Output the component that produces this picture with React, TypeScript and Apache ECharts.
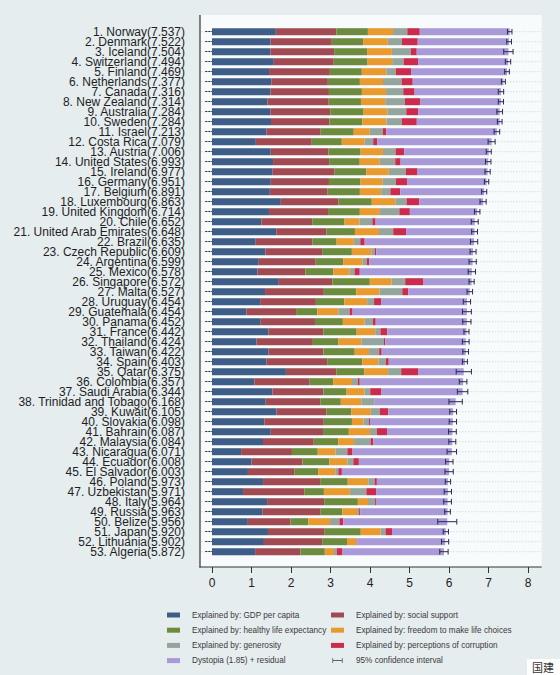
import React, { useEffect, useRef } from "react";
import * as echarts from "echarts";

const countries = ["Norway","Denmark","Iceland","Switzerland","Finland","Netherlands","Canada","New Zealand","Australia","Sweden","Israel","Costa Rica","Austria","United States","Ireland","Germany","Belgium","Luxembourg","United Kingdom","Chile","United Arab Emirates","Brazil","Czech Republic","Argentina","Mexico","Singapore","Malta","Uruguay","Guatemala","Panama","France","Thailand","Taiwan","Spain","Qatar","Colombia","Saudi Arabia","Trinidad and Tobago","Kuwait","Slovakia","Bahrain","Malaysia","Nicaragua","Ecuador","El Salvador","Poland","Uzbekistan","Italy","Russia","Belize","Japan","Lithuania","Algeria"];

const scores = [7.537,7.522,7.504,7.494,7.469,7.377,7.316,7.314,7.284,7.284,7.213,7.079,7.006,6.993,6.977,6.951,6.891,6.863,6.714,6.652,6.648,6.635,6.609,6.599,6.578,6.572,6.527,6.454,6.454,6.452,6.442,6.424,6.422,6.403,6.375,6.357,6.344,6.168,6.105,6.098,6.087,6.084,6.071,6.008,6.003,5.973,5.971,5.964,5.963,5.956,5.920,5.902,5.872];

const gdp = [1.616,1.482,1.481,1.565,1.444,1.504,1.479,1.406,1.484,1.494,1.375,1.110,1.487,1.546,1.536,1.488,1.464,1.742,1.442,1.253,1.626,1.107,1.353,1.185,1.153,1.692,1.343,1.218,0.872,1.234,1.431,1.128,1.434,1.384,1.871,1.071,1.531,1.361,1.633,1.325,1.488,1.291,0.737,1.001,0.910,1.292,0.786,1.395,1.282,0.908,1.417,1.315,1.092];

const social = [1.534,1.551,1.611,1.517,1.540,1.429,1.481,1.548,1.510,1.478,1.376,1.416,1.460,1.420,1.558,1.473,1.462,1.458,1.496,1.284,1.266,1.431,1.434,1.440,1.211,1.354,1.488,1.412,1.256,1.373,1.388,1.426,1.385,1.532,1.274,1.402,1.287,1.380,1.260,1.505,1.323,1.285,1.287,1.286,1.182,1.446,1.549,1.445,1.469,1.081,1.436,1.474,1.146];

const health = [0.797,0.793,0.834,0.858,0.809,0.811,0.835,0.817,0.844,0.831,0.838,0.760,0.815,0.774,0.810,0.799,0.818,0.845,0.805,0.819,0.727,0.617,0.754,0.695,0.710,0.949,0.822,0.719,0.540,0.706,0.844,0.647,0.794,0.889,0.710,0.595,0.590,0.520,0.632,0.713,0.653,0.619,0.653,0.686,0.596,0.699,0.498,0.853,0.547,0.450,0.913,0.629,0.618];

const freedom = [0.635,0.626,0.627,0.620,0.618,0.585,0.611,0.614,0.602,0.613,0.406,0.580,0.568,0.506,0.573,0.563,0.540,0.597,0.508,0.377,0.608,0.437,0.491,0.495,0.413,0.550,0.589,0.579,0.531,0.550,0.470,0.580,0.361,0.409,0.604,0.477,0.450,0.519,0.496,0.296,0.537,0.402,0.448,0.455,0.432,0.520,0.658,0.256,0.374,0.548,0.506,0.234,0.233];

const generosity = [0.362,0.355,0.476,0.291,0.245,0.470,0.436,0.500,0.478,0.385,0.330,0.215,0.316,0.393,0.428,0.336,0.232,0.283,0.493,0.327,0.361,0.162,0.088,0.109,0.121,0.346,0.575,0.175,0.283,0.211,0.131,0.572,0.258,0.190,0.330,0.149,0.148,0.325,0.228,0.137,0.173,0.417,0.302,0.150,0.078,0.158,0.416,0.173,0.052,0.240,0.121,0.010,0.069];

const corruption = [0.316,0.401,0.154,0.367,0.383,0.283,0.287,0.383,0.301,0.384,0.085,0.100,0.221,0.136,0.298,0.277,0.251,0.319,0.265,0.082,0.324,0.111,0.037,0.060,0.133,0.464,0.153,0.178,0.077,0.071,0.173,0.032,0.064,0.071,0.439,0.047,0.273,0.009,0.215,0.024,0.257,0.066,0.130,0.140,0.090,0.059,0.247,0.028,0.033,0.097,0.164,0.012,0.146];

const dystopia = [2.277,2.314,2.323,2.277,2.430,2.295,2.187,2.046,2.065,2.098,2.802,2.899,2.139,2.218,1.774,2.016,2.124,1.620,1.704,2.510,1.735,2.769,2.452,2.614,2.837,1.216,1.557,2.172,2.894,2.307,2.006,2.040,2.127,1.928,1.145,2.616,2.065,2.054,1.640,2.098,1.656,2.005,2.514,2.289,2.715,1.797,1.817,1.814,2.206,2.632,1.363,2.228,2.568];

const ciHigh = [7.594,7.582,7.622,7.562,7.528,7.427,7.384,7.379,7.356,7.344,7.284,7.168,7.070,7.062,7.043,7.006,6.955,6.941,6.783,6.740,6.722,6.727,6.685,6.690,6.671,6.637,6.597,6.546,6.566,6.557,6.506,6.509,6.494,6.466,6.568,6.453,6.476,6.337,6.191,6.191,6.185,6.172,6.191,6.102,6.108,6.040,6.063,6.061,6.035,6.197,5.986,5.992,5.978];

const ciLow = [7.480,7.462,7.386,7.426,7.410,7.327,7.248,7.248,7.212,7.224,7.142,6.990,6.942,6.924,6.911,6.896,6.827,6.785,6.645,6.564,6.574,6.543,6.533,6.508,6.485,6.507,6.457,6.362,6.342,6.347,6.378,6.339,6.350,6.340,6.182,6.261,6.212,5.999,6.019,6.005,5.989,5.996,5.951,5.914,5.898,5.906,5.879,5.867,5.891,5.715,5.854,5.812,5.766];

const xTicks = [0, 8];

const components = [
  { name: "Explained by: GDP per capita", data: gdp, color: "#3e5e88" },
  { name: "Explained by: social support", data: social, color: "#a24a52" },
  { name: "Explained by: healthy life expectancy", data: health, color: "#6c8b3e" },
  { name: "Explained by: freedom to make life choices", data: freedom, color: "#e99a2e" },
  { name: "Explained by: generosity", data: generosity, color: "#93a59c" },
  { name: "Explained by: perceptions of corruption", data: corruption, color: "#cb2b4c" },
  { name: "Dystopia (1.85) + residual", data: dystopia, color: "#a999d7" },
];
const ciName = "95% confidence interval";

const FONT = "'Liberation Sans', Arial, Helvetica, sans-serif";

export default function App() {
  const ref = useRef<HTMLDivElement>(null);
  useEffect(() => {
    document.body.style.margin = "0";
    const chart = echarts.init(ref.current!, null, { renderer: "svg" });
    const labels = countries.map((c, i) => `${i + 1}. ${c}(${scores[i].toFixed(3)})`);
    const legendText = { fontSize: 8.2, lineHeight: 10, color: "#3a3a3a", fontFamily: FONT, padding: [0, 0, 0, 7] };
    const ciIcon = "path://M0,0h1.2v10h-1.2z M1.2,4.4h17.6v1.2h-17.6z M18.8,0h1.2v10h-1.2z";
    const legendCommon = {
      top: 610, orient: "vertical", itemGap: 5.2, itemWidth: 13, itemHeight: 5,
      selectedMode: false, textStyle: legendText, padding: 0,
    };
    const option: any = {
      animation: false,
      backgroundColor: "#e6edef",
      textStyle: { fontFamily: FONT },
      grid: { left: 212, right: 32, top: 31.7, bottom: 123.3, containLabel: false },
      legend: [
        {
          ...legendCommon, left: 167,
          data: [
            { name: components[0].name, icon: "rect" },
            { name: components[2].name, icon: "rect" },
            { name: components[4].name, icon: "rect" },
            { name: components[6].name, icon: "rect" },
          ],
        },
        {
          ...legendCommon, left: 331,
          data: [
            { name: components[1].name, icon: "rect" },
            { name: components[3].name, icon: "rect" },
            { name: components[5].name, icon: "rect" },
            { name: ciName, icon: ciIcon },
          ],
        },
      ],
      xAxis: {
        type: "value", min: xTicks[0], max: xTicks[1], interval: 1, offset: 15.3,
        axisLine: { show: false },
        axisTick: { show: true, length: 6, lineStyle: { color: "#333", width: 1 } },
        axisLabel: { fontSize: 12, color: "#222", margin: 10, fontFamily: FONT },
        splitLine: { show: false },
      },
      yAxis: {
        type: "category", data: labels, inverse: true, boundaryGap: false, offset: 12,
        axisLine: { show: false },
        axisTick: { show: true, length: 7, lineStyle: { color: "#333", width: 1 } },
        axisLabel: { fontSize: 12, lineHeight: 10, color: "#1e1e1e", margin: 15, interval: 0, fontFamily: FONT },
        splitLine: { show: false },
      },
      graphic: [
        { type: "rect", z: -10, shape: { x: 200, y: 15, width: 341.7, height: 552 }, style: { fill: "#f8fbfc" } },
        { type: "line", z: 10, shape: { x1: 200, y1: 15, x2: 200, y2: 567.5 }, style: { stroke: "#333", lineWidth: 1.2 } },
        { type: "line", z: 10, shape: { x1: 199.4, y1: 567, x2: 541.7, y2: 567 }, style: { stroke: "#333", lineWidth: 1.2 } },
        { type: "rect", z: 10, shape: { x: 527, y: 659, width: 33, height: 16 }, style: { fill: "#ffffff" } },
        { type: "text", z: 11, x: 543, y: 667, style: { text: "国建", fontSize: 11, fill: "#333", align: "center", verticalAlign: "middle", fontFamily: "'Noto Sans CJK SC', sans-serif" } },
      ],
      series: [
        {
          type: "custom", name: "grid-lines", silent: true, z: 1,
          data: labels.map((_, i) => [i, 0]),
          encode: { y: 0, x: 1 },
          renderItem: (params: any, api: any) => {
            const p = api.coord([0, api.value(0)]);
            return {
              type: "line",
              shape: { x1: 201, y1: p[1], x2: 541, y2: p[1] },
              style: { stroke: "#cdd6da", lineWidth: 0.8, lineDash: [1.5, 1.5] },
            };
          },
        },
        ...components.map((c) => ({
          type: "bar", name: c.name, stack: "total", barWidth: 7, z: 2,
          data: c.data, itemStyle: { color: c.color },
        })),
        {
          type: "custom", name: ciName, z: 5,
          itemStyle: { color: "#2a2d4c" },
          data: ciLow.map((lo, i) => [i, lo, ciHigh[i]]),
          encode: { y: 0, x: [1, 2] },
          renderItem: (params: any, api: any) => {
            const y = api.value(0);
            const a = api.coord([api.value(1), y]);
            const b = api.coord([api.value(2), y]);
            const h = 2.8;
            const st = { stroke: "#2a2d4c", lineWidth: 1 };
            return {
              type: "group",
              children: [
                { type: "line", shape: { x1: a[0], y1: a[1], x2: b[0], y2: b[1] }, style: st },
                { type: "line", shape: { x1: a[0], y1: a[1] - h, x2: a[0], y2: a[1] + h }, style: st },
                { type: "line", shape: { x1: b[0], y1: b[1] - h, x2: b[0], y2: b[1] + h }, style: st },
              ],
            };
          },
        },
      ],
    };
    chart.setOption(option);
    return () => chart.dispose();
  }, []);
  return <div ref={ref} style={{ width: 560, height: 675 }} />;
}
